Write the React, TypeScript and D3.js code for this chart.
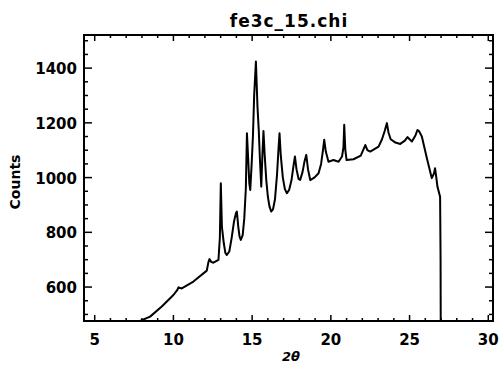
import React, { useEffect, useRef } from 'react';
import * as d3 from 'd3';

// 2-theta positions and counts
const twoTheta = [
    7.80, 7.88, 8.52, 9.26, 10.0, 10.25, 10.32, 10.53, 11.27, 12.12, 12.22, 12.29, 12.4, 12.54, 12.86,
    12.95, 13.01, 13.08, 13.2, 13.3, 13.39, 13.55, 13.7, 13.85, 13.97, 14.03, 14.12, 14.2, 14.28, 14.4,
    14.5, 14.6, 14.67, 14.74, 14.82, 14.88, 14.97, 15.05, 15.13, 15.24, 15.34, 15.42, 15.5, 15.58, 15.65,
    15.72, 15.8, 15.9, 16.0, 16.1, 16.21, 16.33, 16.45, 16.58, 16.68, 16.74, 16.82, 16.95, 17.08, 17.21,
    17.35, 17.5, 17.62, 17.72, 17.82, 17.95, 18.05, 18.2, 18.33, 18.44, 18.55, 18.69, 18.95, 19.22, 19.38,
    19.5, 19.58, 19.68, 19.85, 20.17, 20.49, 20.71, 20.8, 20.85, 20.92, 21.0, 21.44, 21.9, 22.05, 22.19,
    22.32, 22.5, 23.03, 23.25, 23.42, 23.56, 23.66, 23.8, 24.1, 24.41, 24.7, 24.87, 25.0, 25.15, 25.38,
    25.5, 25.6, 25.78, 26.1, 26.41, 26.55, 26.62, 26.7, 26.77, 26.94, 26.97, 27.0
];

const counts = [
    460, 476, 492, 529, 571, 590, 599, 595, 620, 660, 690, 702, 692, 689, 699,
    780, 979, 820, 760, 725, 717, 730, 780, 840, 870, 876, 820, 785, 772, 790,
    850, 960, 1162, 1080, 980, 955, 1050, 1150, 1302, 1424, 1259, 1174, 1060, 967, 1080,
    1170, 1080, 990, 930, 895, 876, 885, 920, 1010, 1110, 1162, 1080, 1000, 958, 943,
    955, 990, 1040, 1077, 1030, 995, 991, 1020, 1060, 1083, 1030, 991, 1000, 1016, 1050,
    1100, 1138, 1095, 1058, 1064, 1058, 1077, 1110, 1193, 1100, 1064, 1067, 1080, 1100, 1119,
    1100, 1095, 1113, 1140, 1170, 1199, 1165, 1140, 1128, 1123, 1135, 1148, 1140, 1132, 1155,
    1174, 1170, 1150, 1071, 998, 1015, 1034, 1000, 967, 930, 700, 0
];

const xTicks = [5, 10, 15, 20, 25, 30];
const yTicks = [600, 800, 1000, 1200, 1400];

const W = 499;
const H = 366;

export default function App() {
    const ref = useRef<SVGSVGElement>(null);

    useEffect(() => {
        if (!ref.current) return;
        const svg = d3.select(ref.current);
        svg.selectAll("*").remove();

        const left = 84, right = 493, top = 35, bottom = 321;

        const x = d3.scaleLinear().domain([4.32, 30.3]).range([left, right]);
        const y = d3.scaleLinear().domain([476, 1521]).range([bottom, top]);

        const font = "'DejaVu Sans', Arial, sans-serif";

        svg.append("rect").attr("width", W).attr("height", H).attr("fill", "#fff");

        // clip for the trace
        svg.append("clipPath").attr("id", "plotclip")
            .append("rect")
            .attr("x", left).attr("y", top)
            .attr("width", right - left).attr("height", bottom - top);

        const pts: [number, number][] = twoTheta.map((t, i) => [t, counts[i]]);
        const line = d3.line<[number, number]>()
            .x(d => x(d[0]))
            .y(d => y(d[1]));

        svg.append("path")
            .attr("d", line(pts) as string)
            .attr("clip-path", "url(#plotclip)")
            .attr("fill", "none")
            .attr("stroke", "#000")
            .attr("stroke-width", 2)
            .attr("stroke-linejoin", "round");

        // axes box
        svg.append("rect")
            .attr("x", left).attr("y", top)
            .attr("width", right - left).attr("height", bottom - top)
            .attr("fill", "none")
            .attr("stroke", "#000")
            .attr("stroke-width", 2);

        const tk = svg.append("g").attr("stroke", "#000").attr("stroke-width", 1.5);

        // x ticks, bottom and top
        d3.range(5, 31, 1).forEach(v => {
            const major = v % 5 === 0;
            const len = major ? 6 : 3;
            const px = x(v);
            tk.append("line").attr("x1", px).attr("x2", px).attr("y1", bottom).attr("y2", bottom - len);
            tk.append("line").attr("x1", px).attr("x2", px).attr("y1", top).attr("y2", top + len);
        });

        // y ticks, left and right
        d3.range(500, 1521, 50).forEach(v => {
            const major = v % 200 === 0;
            const len = major ? 8 : 4;
            const py = y(v);
            tk.append("line").attr("x1", left).attr("x2", left + len).attr("y1", py).attr("y2", py);
            tk.append("line").attr("x1", right).attr("x2", right - len).attr("y1", py).attr("y2", py);
        });

        // tick labels
        svg.append("g").selectAll("text")
            .data(xTicks)
            .join("text")
            .attr("x", d => x(d))
            .attr("y", 345)
            .attr("text-anchor", "middle")
            .style("font-family", font)
            .style("font-weight", "bold")
            .style("font-size", "15px")
            .text(d => d);

        svg.append("g").selectAll("text")
            .data(yTicks)
            .join("text")
            .attr("x", 77)
            .attr("y", d => y(d) + 6)
            .attr("text-anchor", "end")
            .style("font-family", font)
            .style("font-weight", "bold")
            .style("font-size", "15px")
            .text(d => d);

        // title
        svg.append("text")
            .attr("x", 289)
            .attr("y", 27)
            .attr("text-anchor", "middle")
            .style("font-family", font)
            .style("font-weight", "bold")
            .style("font-size", "17px")
            .style("letter-spacing", "1px")
            .text("fe3c_15.chi");

        // axis titles
        svg.append("text")
            .attr("transform", `translate(20,182) rotate(-90)`)
            .attr("text-anchor", "middle")
            .style("font-family", font)
            .style("font-weight", "bold")
            .style("font-size", "14px")
            .text("Counts");

        svg.append("text")
            .attr("x", 291)
            .attr("y", 361)
            .attr("text-anchor", "middle")
            .style("font-family", font)
            .style("font-weight", "bold")
            .style("font-style", "italic")
            .style("font-size", "13px")
            .text("2θ");
    }, []);

    return (
        <svg ref={ref} width={W} height={H}
            style={{ position: 'absolute', left: 0, top: 0, display: 'block' }} />
    );
}
